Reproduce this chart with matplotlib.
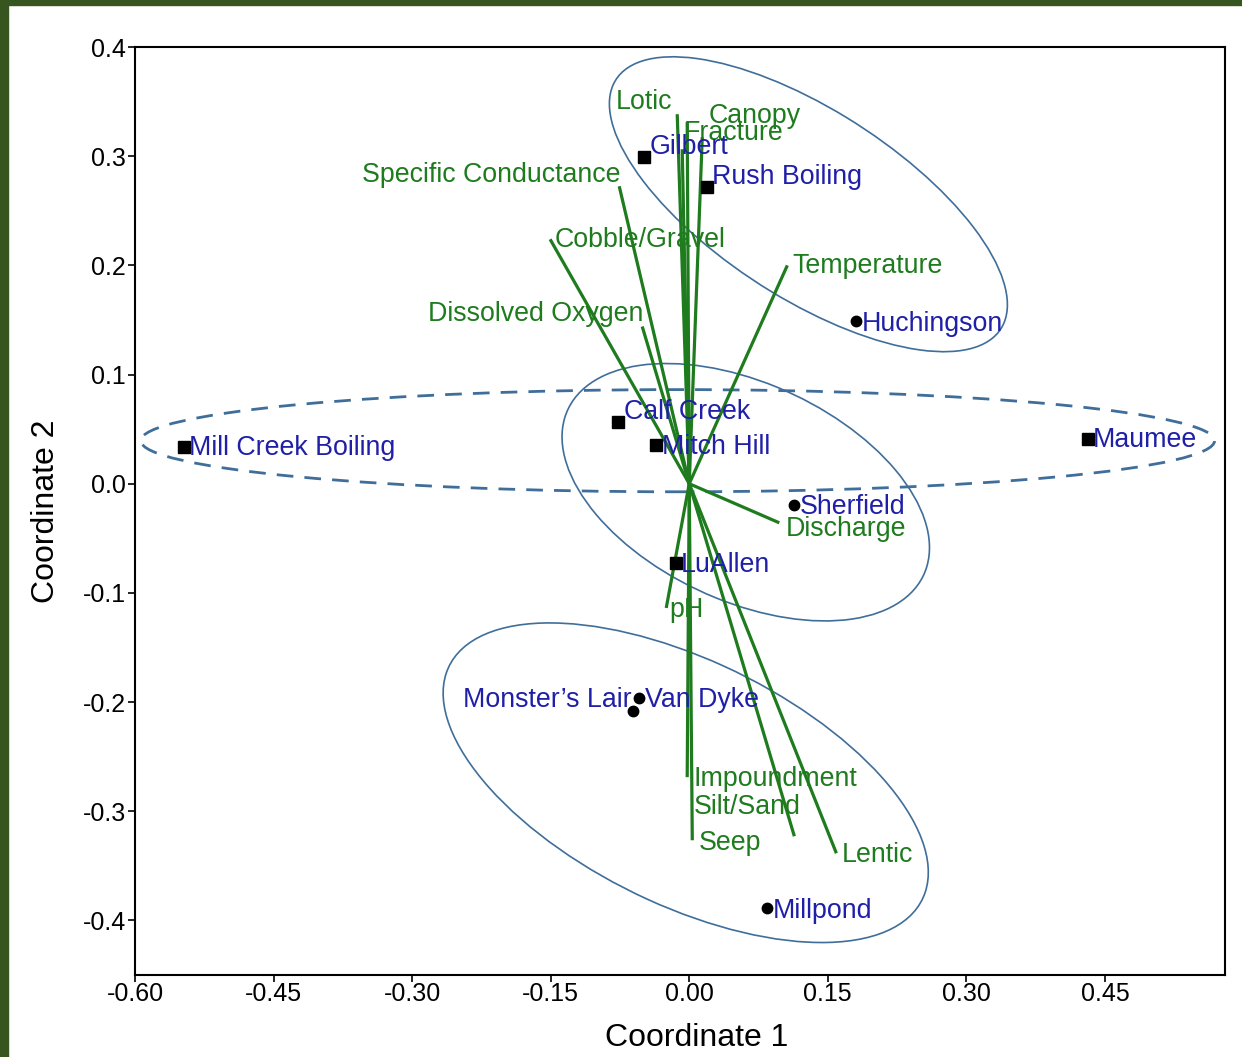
import numpy as np
import matplotlib.pyplot as plt
from matplotlib.patches import Ellipse, Rectangle

plt.rcParams['font.family'] = ['Liberation Sans', 'DejaVu Sans']

# sites (ordination scores)
sites = ["Gilbert", "Rush Boiling", "Huchingson", "Calf Creek", "Mitch Hill",
         "Mill Creek Boiling", "Maumee", "Sherfield", "LuAllen",
         "Monster\u2019s Lair", "Van Dyke", "Millpond"]
site_x = [-0.0488, 0.0195, 0.1809, -0.0769, -0.0358, -0.5471, 0.4312,
          0.1138, -0.0141, -0.0607, -0.0542, 0.0845]
site_y = [0.2991, 0.2716, 0.1486, 0.0569, 0.0358, 0.0339, 0.0413,
          -0.0193, -0.0725, -0.2083, -0.1963, -0.3890]
site_marker = ["s", "s", "o", "s", "s", "s", "s", "o", "s", "o", "o", "o"]
site_lab_x = [-0.0433, 0.0249, 0.1864, -0.0704, -0.0293, -0.5417, 0.4366,
              0.1192, -0.0087, -0.0628, -0.0477, 0.0899]
site_lab_y = [0.3101, 0.2826, 0.1486, 0.0679, 0.0358, 0.0349, 0.0422,
              -0.0193, -0.0725, -0.1963, -0.1963, -0.3890]
site_ha = ["left"] * 9 + ["right", "left", "left"]

# environmental vectors
env = ["Lotic", "Fracture", "", "Canopy", "Specific Conductance",
       "Cobble/Gravel", "Dissolved Oxygen", "Temperature", "Discharge", "pH",
       "Impoundment", "Seep", "Silt/Sand", "Lentic"]
env_x = [-0.0130, -0.0022, -0.0076, 0.0141, -0.0758, -0.1506, -0.0509,
         0.1062, 0.0975, -0.0249, -0.0022, 0.0033, 0.1138, 0.1593]
env_y = [0.3385, 0.3312, 0.3064, 0.3174, 0.2725, 0.2239, 0.1440,
         0.2000, -0.0358, -0.1138, -0.2688, -0.3266, -0.3229, -0.3385]
env_lab_x = [-0.0791, -0.0054, 0, 0.0206, -0.3543, -0.1452, -0.2828,
             0.1116, 0.1040, -0.0217, 0.0043, 0.0098, 0.0054, 0.1647]
env_lab_y = [0.3514, 0.3229, 0, 0.3385, 0.2844, 0.2257, 0.1578,
             0.2018, -0.0394, -0.1138, -0.2688, -0.3275, -0.2945, -0.3385]

# group ellipses: centre x, centre y, width, height, angle
ell_cx = [0.129, 0.0612, -0.0038]
ell_cy = [0.256, -0.0078, -0.2739]
ell_w = [0.476, 0.415, 0.556]
ell_h = [0.179, 0.204, 0.229]
ell_ang = [-27.3, -19.1, -21.1]
dash_ell = (-0.0125, 0.0394, 1.1625, 0.0936, 0.0)

GREEN = "#1e7b1e"
BLUE = "#1f1fa8"
ELL = "#3f6e9a"

fig = plt.figure(figsize=(12.42, 10.57), dpi=100)
fig.patches.append(Rectangle((0, 0), 0.0065, 1, transform=fig.transFigure,
                             color="#37561f", zorder=0))
fig.patches.append(Rectangle((0, 0.9955), 1, 0.0045, transform=fig.transFigure,
                             color="#37561f", zorder=0))
ax = fig.add_axes([0.1087, 0.0776, 0.8776, 0.8779])

for cx, cy, w, h, a in zip(ell_cx, ell_cy, ell_w, ell_h, ell_ang):
    ax.add_patch(Ellipse((cx, cy), w, h, angle=a, fill=False, ec=ELL, lw=1.2))
ax.add_patch(Ellipse(dash_ell[:2], dash_ell[2], dash_ell[3], angle=dash_ell[4],
                     fill=False, ec=ELL, lw=2, ls=(0, (6, 4))))

for x, y in zip(env_x, env_y):
    ax.plot([0, x], [0, y], color=GREEN, lw=2.3, solid_capstyle="butt", zorder=3)
for name, lx, ly in zip(env, env_lab_x, env_lab_y):
    if name:
        ax.text(lx, ly - 0.002, name, color=GREEN, fontsize=19.3, ha="left", va="center", zorder=4)

for x, y, m in zip(site_x, site_y, site_marker):
    ax.plot(x, y, marker=m, color="black", ms=8 if m == "s" else 7.5, ls="none", zorder=5)
for name, lx, ly, ha in zip(sites, site_lab_x, site_lab_y, site_ha):
    ax.text(lx, ly - 0.002, name, color=BLUE, fontsize=19.3, ha=ha, va="center", zorder=4)

xt = np.round(np.arange(-0.60, 0.46, 0.15), 2) + 0.0
yt = np.round(np.arange(-0.4, 0.41, 0.1), 1) + 0.0
ax.set_xlim(-0.6, 0.58)
ax.set_ylim(-0.45, 0.4)
ax.set_xticks(xt)
ax.set_xticklabels([f"{abs(v):.2f}" if abs(v) < 1e-9 else f"{v:.2f}" for v in xt])
ax.set_yticks(yt)
ax.set_yticklabels([f"{abs(v):.1f}" if abs(v) < 1e-9 else f"{v:.1f}" for v in yt])
ax.tick_params(direction="out", length=5, width=1.2, labelsize=18)
ax.tick_params(axis="x", pad=0)
ax.tick_params(axis="y", pad=1.5)
for s in ax.spines.values():
    s.set_linewidth(1.5)
ax.set_xlabel("Coordinate 1", fontsize=23)
ax.xaxis.set_label_coords(0.515, -0.052)
ax.set_ylabel("Coordinate 2", fontsize=23, labelpad=16)

fig.savefig("out.png", dpi=100)
